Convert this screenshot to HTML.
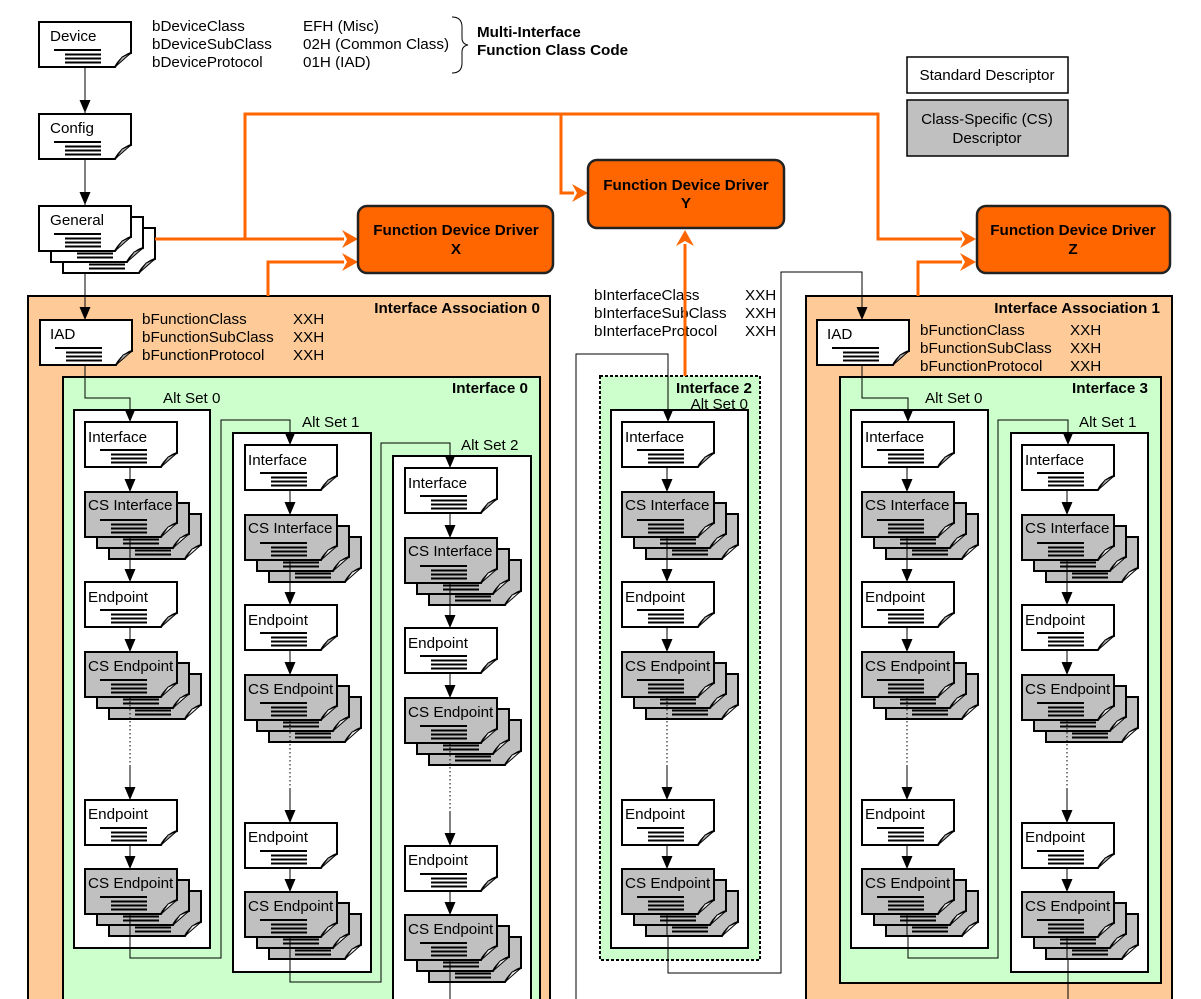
<!DOCTYPE html>
<html><head><meta charset="utf-8"><style>
html,body{margin:0;padding:0;background:#fff}
svg{display:block}
text{font-family:"Liberation Sans",Arial,sans-serif;font-size:15.2px;fill:#000}
.b{font-weight:bold}
</style></head><body>
<svg width="1201" height="999" viewBox="0 0 1201 999" xmlns="http://www.w3.org/2000/svg">
<defs>
<symbol id="doc" overflow="visible">
<path d="M0,0H92V31C86,33 80,38 76,45H0Z" fill="#fff" stroke="#000" stroke-width="2"/>
<path d="M76,45L92,31L83,35Z" fill="#aaa" stroke="#000" stroke-width="1"/>
<path d="M15,28H62M26,32.5H62M26,36.5H62M26,40.5H62" stroke="#000" stroke-width="2"/>
</symbol>
<symbol id="docg" overflow="visible">
<path d="M0,0H92V31C86,33 80,38 76,45H0Z" fill="#c0c0c0" stroke="#000" stroke-width="2"/>
<path d="M76,45L92,31L83,35Z" fill="#eee" stroke="#000" stroke-width="1"/>
<path d="M15,28H62M26,32.5H62M26,36.5H62M26,40.5H62" stroke="#000" stroke-width="2"/>
</symbol>
<symbol id="stk" overflow="visible">
<use href="#docg" x="24" y="22"/><use href="#docg" x="12" y="11"/><use href="#docg" x="0" y="0"/>
</symbol>
<symbol id="wstk" overflow="visible">
<use href="#doc" x="24" y="22"/><use href="#doc" x="12" y="11"/><use href="#doc" x="0" y="0"/>
</symbol>
<symbol id="ah" overflow="visible"><path d="M-5.5,-13L5.5,-13L0,0Z" fill="#000"/></symbol>
<symbol id="col" overflow="visible">
<use href="#doc" x="0" y="422"/>
<path d="M45,467V492" stroke="#000" stroke-width="1"/><use href="#ah" x="45" y="492"/>
<use href="#stk" x="0" y="492"/>
<path d="M45,537V582" stroke="#000" stroke-width="1"/><use href="#ah" x="45" y="582"/>
<use href="#doc" x="0" y="582"/>
<path d="M45,627V652" stroke="#000" stroke-width="1"/><use href="#ah" x="45" y="652"/>
<use href="#stk" x="0" y="652"/>
<path d="M45,697V765" stroke="#000" stroke-width="1" stroke-dasharray="1.5,2.5"/>
<path d="M45,765V800" stroke="#000" stroke-width="1"/><use href="#ah" x="45" y="800"/>
<use href="#doc" x="0" y="800"/>
<path d="M45,845V869" stroke="#000" stroke-width="1"/><use href="#ah" x="45" y="869"/>
<use href="#stk" x="0" y="869"/>
<path d="M45,914V936" stroke="#000" stroke-width="1"/>
</symbol>
<symbol id="oah" overflow="visible"><path d="M0,0L-16,-9L-11,0L-16,9Z" fill="#ff6600"/></symbol>
</defs>

<text x="152" y="31">bDeviceClass</text>
<text x="152" y="49">bDeviceSubClass</text>
<text x="152" y="67">bDeviceProtocol</text>
<text x="303" y="31">EFH (Misc)</text>
<text x="303" y="49">02H (Common Class)</text>
<text x="303" y="67">01H (IAD)</text>
<path d="M452,17Q462,17 462,27V38Q462,44 468,45Q462,46 462,52V63Q462,73 452,73" fill="none" stroke="#000" stroke-width="1"/>
<text class="b" x="477" y="37">Multi-Interface</text>
<text class="b" x="477" y="55">Function Class Code</text>

<rect x="907" y="57" width="161" height="36" fill="#fff" stroke="#000" stroke-width="1.5"/>
<text x="987" y="80" text-anchor="middle">Standard Descriptor</text>
<rect x="907" y="100" width="161" height="56" fill="#c0c0c0" stroke="#000" stroke-width="1.5"/>
<text x="987" y="124" text-anchor="middle">Class-Specific (CS)</text>
<text x="987" y="143" text-anchor="middle">Descriptor</text>

<rect x="28" y="296" width="522" height="720" fill="#fecb98" stroke="#000" stroke-width="2"/>
<text class="b" x="540" y="313" text-anchor="end">Interface Association 0</text>
<rect x="63" y="377" width="477" height="640" fill="#ccffcc" stroke="#000" stroke-width="2"/>
<text class="b" x="528" y="393" text-anchor="end">Interface 0</text>

<rect x="806" y="296" width="366" height="720" fill="#fecb98" stroke="#000" stroke-width="2"/>
<text class="b" x="1160" y="313" text-anchor="end">Interface Association 1</text>
<rect x="840" y="377" width="321" height="606" fill="#ccffcc" stroke="#000" stroke-width="2"/>
<text class="b" x="1148" y="393" text-anchor="end">Interface 3</text>

<rect x="600" y="376" width="160" height="584" fill="#ccffcc" stroke="#000" stroke-width="2" stroke-dasharray="3,2"/>
<text class="b" x="752" y="393" text-anchor="end">Interface 2</text>
<text x="748" y="409" text-anchor="end">Alt Set 0</text>

<rect x="74" y="410" width="136" height="538" fill="#fff" stroke="#000" stroke-width="2"/>
<text x="163" y="403">Alt Set 0</text>
<rect x="233" y="433" width="138" height="539" fill="#fff" stroke="#000" stroke-width="2"/>
<text x="302" y="427">Alt Set 1</text>
<rect x="393" y="456" width="138" height="560" fill="#fff" stroke="#000" stroke-width="2"/>
<text x="461" y="450">Alt Set 2</text>
<rect x="611" y="410" width="137" height="538" fill="#fff" stroke="#000" stroke-width="2"/>
<rect x="851" y="410" width="137" height="538" fill="#fff" stroke="#000" stroke-width="2"/>
<text x="925" y="403">Alt Set 0</text>
<rect x="1011" y="433" width="137" height="539" fill="#fff" stroke="#000" stroke-width="2"/>
<text x="1079" y="427">Alt Set 1</text>

<g fill="none" stroke="#000" stroke-width="1">
<path d="M85,62V113M85,158V205M85,273V320"/>
<path d="M85,365V398H130V421"/>
<path d="M130,936V958H221V420H290V444"/>
<path d="M290,959V982H381V443H450V467"/>
<path d="M450,982V999"/>
<path d="M862,365V398H908V421"/>
<path d="M908,936V958H998V420H1068V444"/>
<path d="M1068,959V999"/>
<path d="M576,999V354H668V421"/>
<path d="M668,936V973H781V272H862V320"/>
</g>
<use href="#ah" x="85" y="113"/><use href="#ah" x="85" y="205"/><use href="#ah" x="85" y="320"/>
<use href="#ah" x="130" y="422"/><use href="#ah" x="290" y="445"/><use href="#ah" x="450" y="468"/>
<use href="#ah" x="908" y="422"/><use href="#ah" x="1068" y="445"/>
<use href="#ah" x="668" y="422"/><use href="#ah" x="862" y="320"/>

<use href="#col" x="85" y="0"/>
<use href="#col" x="245" y="23"/>
<use href="#col" x="405" y="46"/>
<use href="#col" x="622" y="0"/>
<use href="#col" x="862" y="0"/>
<use href="#col" x="1022" y="23"/>

<g>
<text x="88" y="442">Interface</text><text x="88" y="510">CS Interface</text><text x="88" y="602">Endpoint</text><text x="88" y="671">CS Endpoint</text><text x="88" y="819">Endpoint</text><text x="88" y="888">CS Endpoint</text>
<text x="248" y="465">Interface</text><text x="248" y="533">CS Interface</text><text x="248" y="625">Endpoint</text><text x="248" y="694">CS Endpoint</text><text x="248" y="842">Endpoint</text><text x="248" y="911">CS Endpoint</text>
<text x="408" y="488">Interface</text><text x="408" y="556">CS Interface</text><text x="408" y="648">Endpoint</text><text x="408" y="717">CS Endpoint</text><text x="408" y="865">Endpoint</text><text x="408" y="934">CS Endpoint</text>
<text x="625" y="442">Interface</text><text x="625" y="510">CS Interface</text><text x="625" y="602">Endpoint</text><text x="625" y="671">CS Endpoint</text><text x="625" y="819">Endpoint</text><text x="625" y="888">CS Endpoint</text>
<text x="865" y="442">Interface</text><text x="865" y="510">CS Interface</text><text x="865" y="602">Endpoint</text><text x="865" y="671">CS Endpoint</text><text x="865" y="819">Endpoint</text><text x="865" y="888">CS Endpoint</text>
<text x="1025" y="465">Interface</text><text x="1025" y="533">CS Interface</text><text x="1025" y="625">Endpoint</text><text x="1025" y="694">CS Endpoint</text><text x="1025" y="842">Endpoint</text><text x="1025" y="911">CS Endpoint</text>
</g>

<use href="#doc" x="39" y="22"/><text x="50" y="41">Device</text>
<use href="#doc" x="39" y="114"/><text x="50" y="133">Config</text>
<use href="#wstk" x="39" y="206"/><text x="50" y="225">General</text>
<use href="#doc" x="40" y="320"/><text x="50" y="339">IAD</text>
<use href="#doc" x="817" y="320"/><text x="827" y="339">IAD</text>

<text x="142" y="324">bFunctionClass</text><text x="142" y="342">bFunctionSubClass</text><text x="142" y="360">bFunctionProtocol</text>
<text x="293" y="324">XXH</text><text x="293" y="342">XXH</text><text x="293" y="360">XXH</text>
<text x="920" y="335">bFunctionClass</text><text x="920" y="353">bFunctionSubClass</text><text x="920" y="371">bFunctionProtocol</text>
<text x="1070" y="335">XXH</text><text x="1070" y="353">XXH</text><text x="1070" y="371">XXH</text>
<text x="594" y="300">bInterfaceClass</text><text x="594" y="318">bInterfaceSubClass</text><text x="594" y="336">bInterfaceProtocol</text>
<text x="745" y="300">XXH</text><text x="745" y="318">XXH</text><text x="745" y="336">XXH</text>

<g fill="none" stroke="#ff6600" stroke-width="3">
<path d="M155,239H245V114H878V239H962"/>
<path d="M245,239H344"/>
<path d="M561,114V193H574"/>
<path d="M268,296V262H344"/>
<path d="M918,296V262H962"/>
<path d="M685,376V244"/>
</g>
<use href="#oah" x="358" y="239"/><use href="#oah" x="358" y="262"/>
<use href="#oah" x="588" y="193"/>
<use href="#oah" x="976" y="239"/><use href="#oah" x="976" y="262"/>
<g transform="translate(685,230) rotate(-90)"><use href="#oah" x="0" y="0"/></g>

<rect x="358" y="206" width="195" height="67" rx="9" fill="#ff6600" stroke="#222" stroke-width="2.5"/>
<text class="b" x="456" y="235" text-anchor="middle">Function Device Driver</text>
<text class="b" x="456" y="254" text-anchor="middle">X</text>
<rect x="588" y="160" width="196" height="68" rx="9" fill="#ff6600" stroke="#222" stroke-width="2.5"/>
<text class="b" x="686" y="190" text-anchor="middle">Function Device Driver</text>
<text class="b" x="686" y="208" text-anchor="middle">Y</text>
<rect x="977" y="206" width="193" height="67" rx="9" fill="#ff6600" stroke="#222" stroke-width="2.5"/>
<text class="b" x="1073" y="235" text-anchor="middle">Function Device Driver</text>
<text class="b" x="1073" y="254" text-anchor="middle">Z</text>
</svg>
</body></html>
